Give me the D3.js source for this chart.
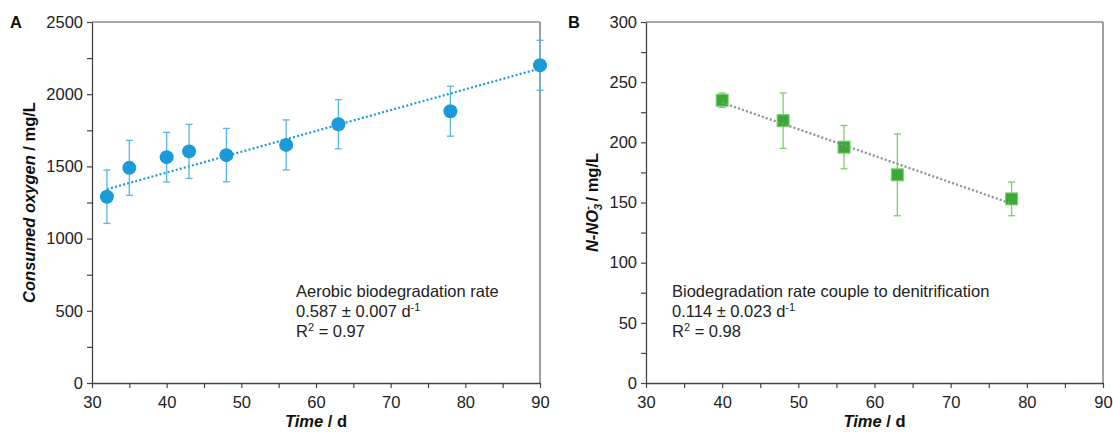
<!DOCTYPE html>
<html>
<head>
<meta charset="utf-8">
<script src="https://cdn.jsdelivr.net/npm/d3@7"></script>
<style>
  html, body { margin: 0; padding: 0; background: #fff; }
  svg { display: block; font-family: "Liberation Sans", Arial, sans-serif; }
</style>
</head>
<body>
<script>
// Panel A: consumed oxygen
const daysA = [32, 35, 40, 43, 48, 56, 63, 78, 90];
const oxygen = [1290, 1490, 1564, 1604, 1578, 1649, 1792, 1882, 2200];
const oxygenErr = [185, 190, 172, 187, 185, 173, 170, 173, 173];
const fitA = [[32, 1342], [90, 2178]];

// Panel B: nitrate
const daysB = [40, 48, 56, 63, 78];
const nitrate = [235, 218, 196, 173, 153];
const nitrateErr = [6, 23, 18, 34, 14];
const fitB = [[40, 233], [78, 149]];

const xTicks = [30, 40, 50, 60, 70, 80, 90];

const w = 1113;
const h = 432;
const plotTop = 22;
const plotBottom = 383;

const svg = d3.select('body')
  .append('svg')
  .attr('width', w)
  .attr('height', h);

function drawPanel(opt) {
  const x = d3.scaleLinear().domain([30, 90]).range([opt.left, opt.right]);
  const y = d3.scaleLinear().domain([0, opt.yMax]).range([plotBottom, plotTop]);
  const g = svg.append('g');

  // frame top + right
  g.append('line')
    .attr('x1', opt.left).attr('x2', opt.right)
    .attr('y1', plotTop).attr('y2', plotTop)
    .attr('stroke', '#555').attr('stroke-width', 1.2);
  g.append('line')
    .attr('x1', opt.right).attr('x2', opt.right)
    .attr('y1', plotTop).attr('y2', plotBottom)
    .attr('stroke', '#888').attr('stroke-width', 1.6);

  const xMinor = d3.range(30, 90.1, 5);
  const xAxis = d3.axisBottom(x)
    .tickValues(xMinor)
    .tickSize(5)
    .tickSizeOuter(0)
    .tickFormat(d => xTicks.includes(d) ? d : '');
  const gx = g.append('g')
    .attr('transform', 'translate(0,' + plotBottom + ')')
    .call(xAxis);

  const yMinor = d3.range(0, opt.yMax + 0.1, opt.yStep / 2);
  const yAxis = d3.axisLeft(y)
    .tickValues(yMinor)
    .tickSize(5)
    .tickSizeOuter(0)
    .tickFormat(d => opt.yTicks.includes(d) ? d : '');
  const gy = g.append('g')
    .attr('transform', 'translate(' + opt.left + ',0)')
    .call(yAxis);

  [gx, gy].forEach(a => {
    a.select('.domain').attr('stroke', '#444').attr('stroke-width', 1.3);
    a.selectAll('.tick line').attr('stroke', '#444').attr('stroke-width', 1.2);
    a.selectAll('.tick text')
      .attr('fill', '#222')
      .style('font-size', '16.5px')
      .style('font-family', '"Liberation Sans", Arial, sans-serif');
  });
  gx.selectAll('.tick text').attr('dy', '1.05em');
  gy.selectAll('.tick text').attr('x', -9);

  // trend line
  g.append('line')
    .attr('x1', x(opt.fit[0][0])).attr('y1', y(opt.fit[0][1]))
    .attr('x2', x(opt.fit[1][0])).attr('y2', y(opt.fit[1][1]))
    .attr('stroke', opt.fitColor)
    .attr('stroke-width', 2.2)
    .attr('stroke-dasharray', '2,2.2');

  // error bars
  const eb = g.selectAll('.eb')
    .data(opt.days)
    .enter()
    .append('g')
    .attr('stroke', opt.errColor)
    .attr('stroke-width', 1.3);
  eb.append('line')
    .attr('x1', d => x(d)).attr('x2', d => x(d))
    .attr('y1', (d, i) => y(opt.vals[i] + opt.errs[i]))
    .attr('y2', (d, i) => y(opt.vals[i] - opt.errs[i]));
  eb.append('line')
    .attr('x1', d => x(d) - 3.5).attr('x2', d => x(d) + 3.5)
    .attr('y1', (d, i) => y(opt.vals[i] + opt.errs[i]))
    .attr('y2', (d, i) => y(opt.vals[i] + opt.errs[i]));
  eb.append('line')
    .attr('x1', d => x(d) - 3.5).attr('x2', d => x(d) + 3.5)
    .attr('y1', (d, i) => y(opt.vals[i] - opt.errs[i]))
    .attr('y2', (d, i) => y(opt.vals[i] - opt.errs[i]));

  // markers
  if (opt.shape === 'circle') {
    g.selectAll('.pt')
      .data(opt.days)
      .enter()
      .append('circle')
      .attr('cx', d => x(d))
      .attr('cy', (d, i) => y(opt.vals[i]))
      .attr('r', 7)
      .attr('fill', opt.color);
  } else {
    g.selectAll('.pt')
      .data(opt.days)
      .enter()
      .append('rect')
      .attr('x', d => x(d) - 6)
      .attr('y', (d, i) => y(opt.vals[i]) - 6)
      .attr('width', 12)
      .attr('height', 12)
      .attr('fill', opt.color)
      .attr('stroke', '#7fcf72')
      .attr('stroke-width', 1);
  }
  // grey dotted fit is drawn over squares in B
  if (opt.fitOnTop) {
    g.append('line')
      .attr('x1', x(opt.fit[0][0])).attr('y1', y(opt.fit[0][1]))
      .attr('x2', x(opt.fit[1][0])).attr('y2', y(opt.fit[1][1]))
      .attr('stroke', opt.fitColor)
      .attr('stroke-opacity', 0.7)
      .attr('stroke-width', 2)
      .attr('stroke-dasharray', '2,2.2');
  }

  // panel letter
  g.append('text')
    .attr('x', opt.letterX).attr('y', plotTop + 6)
    .attr('font-size', 16.5).attr('font-weight', 'bold')
    .attr('fill', '#111')
    .text(opt.letter);

  // x label
  const xl = g.append('text')
    .attr('x', (opt.left + opt.right) / 2)
    .attr('y', 427)
    .attr('text-anchor', 'middle')
    .attr('font-size', 16.5).attr('font-weight', 'bold')
    .attr('fill', '#111');
  xl.append('tspan').attr('font-style', 'italic').text('Time');
  xl.append('tspan').text(' / d');

  // annotation
  const ann = g.append('text')
    .attr('x', opt.annX)
    .attr('y', 297)
    .attr('font-size', 16.5)
    .attr('fill', '#222');
  ann.append('tspan').attr('x', opt.annX).text(opt.annTitle);
  ann.append('tspan').attr('x', opt.annX).attr('dy', 20).text(opt.annRate + ' d');
  ann.append('tspan').attr('font-size', 11).attr('dy', -6).text('-1');
  ann.append('tspan').attr('x', opt.annX).attr('dy', 26).text('R');
  ann.append('tspan').attr('font-size', 11).attr('dy', -6).text('2');
  ann.append('tspan').attr('dy', 6).text(' = ' + opt.r2);

  return g;
}

const gA = drawPanel({
  left: 92, right: 540, yMax: 2500, yStep: 500,
  yTicks: [0, 500, 1000, 1500, 2000, 2500],
  days: daysA, vals: oxygen, errs: oxygenErr, fit: fitA,
  color: '#1a9ad8', errColor: '#5ab4e6', fitColor: '#1a9ad8',
  shape: 'circle', fitOnTop: false,
  letter: 'A', letterX: 10,
  annX: 296, annTitle: 'Aerobic biodegradation rate',
  annRate: '0.587 \u00b1 0.007', r2: '0.97'
});

const gB = drawPanel({
  left: 646, right: 1103, yMax: 300, yStep: 50,
  yTicks: [0, 50, 100, 150, 200, 250, 300],
  days: daysB, vals: nitrate, errs: nitrateErr, fit: fitB,
  color: '#3aaa35', errColor: '#7fcc6f', fitColor: '#999',
  shape: 'square', fitOnTop: true,
  letter: 'B', letterX: 568,
  annX: 672, annTitle: 'Biodegradation rate couple to denitrification',
  annRate: '0.114 \u00b1 0.023', r2: '0.98'
});

// y labels
const ylA = svg.append('text')
  .attr('transform', 'translate(35,' + ((plotTop + plotBottom) / 2) + ') rotate(-90)')
  .attr('text-anchor', 'middle')
  .attr('font-size', 16.5).attr('font-weight', 'bold')
  .attr('fill', '#111');
ylA.append('tspan').attr('font-style', 'italic').text('Consumed oxygen');
ylA.append('tspan').text(' / mg/L');

const ylB = svg.append('text')
  .attr('transform', 'translate(598,' + ((plotTop + plotBottom) / 2) + ') rotate(-90)')
  .attr('text-anchor', 'middle')
  .attr('font-size', 16.5).attr('font-weight', 'bold')
  .attr('fill', '#111');
ylB.append('tspan').attr('font-style', 'italic').text('N-NO');
ylB.append('tspan').attr('font-style', 'italic').attr('font-size', 11).attr('dy', 4).text('3');
ylB.append('tspan').attr('font-style', 'italic').attr('font-size', 11).attr('dx', -6).attr('dy', -11).text('-');
ylB.append('tspan').attr('dy', 7).text(' / mg/L');
</script>
</body>
</html>
